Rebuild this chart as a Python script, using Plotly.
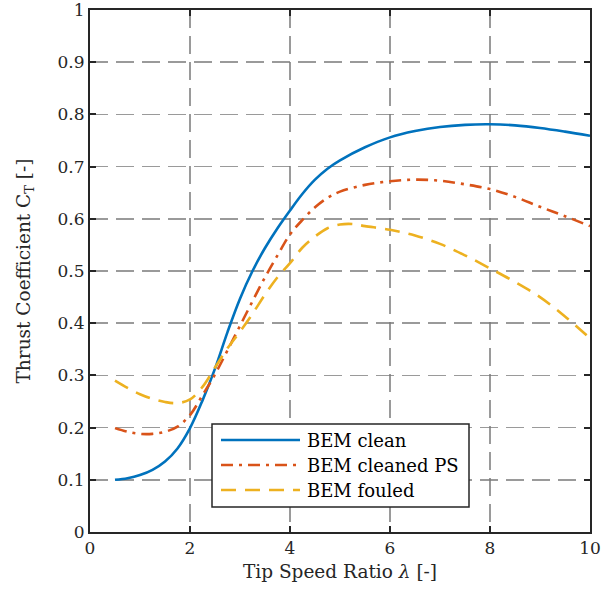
import plotly.graph_objects as go

# ---- data ----
x_clean = [0.5, 0.75, 1.0, 1.25, 1.5, 1.75, 2.0, 2.25, 2.5, 2.75, 3.0, 3.25, 3.5, 3.75, 4.0, 4.25, 4.5, 4.75, 5.0, 5.5, 6.0, 6.5, 7.0, 7.5, 8.0, 8.5, 9.0, 9.5, 10.0]
y_clean = [0.100, 0.103, 0.109, 0.119, 0.135, 0.160, 0.199, 0.252, 0.313, 0.383, 0.447, 0.500, 0.544, 0.582, 0.616, 0.648, 0.675, 0.696, 0.712, 0.737, 0.756, 0.768, 0.776, 0.780, 0.781, 0.779, 0.774, 0.767, 0.759]

x_ps = [0.5, 0.75, 1.0, 1.25, 1.5, 1.75, 2.0, 2.25, 2.5, 2.75, 3.0, 3.25, 3.5, 3.75, 4.0, 4.25, 4.5, 4.75, 5.0, 5.5, 6.0, 6.5, 7.0, 7.5, 8.0, 8.5, 9.0, 9.5, 10.0]
y_ps = [0.199, 0.192, 0.188, 0.188, 0.192, 0.202, 0.224, 0.262, 0.302, 0.348, 0.395, 0.442, 0.488, 0.530, 0.570, 0.598, 0.622, 0.640, 0.652, 0.665, 0.672, 0.675, 0.673, 0.666, 0.657, 0.642, 0.623, 0.605, 0.586]

x_fouled = [0.5, 0.75, 1.0, 1.25, 1.5, 1.75, 2.0, 2.25, 2.5, 2.75, 3.0, 3.25, 3.5, 3.75, 4.0, 4.25, 4.5, 4.75, 5.0, 5.25, 5.5, 6.0, 6.5, 7.0, 7.5, 8.0, 8.5, 9.0, 9.5, 10.0]
y_fouled = [0.290, 0.276, 0.264, 0.255, 0.249, 0.247, 0.254, 0.278, 0.315, 0.352, 0.384, 0.418, 0.455, 0.488, 0.515, 0.545, 0.566, 0.582, 0.589, 0.590, 0.586, 0.579, 0.568, 0.552, 0.530, 0.505, 0.479, 0.450, 0.413, 0.371]

series_names = ["BEM clean", "BEM cleaned PS", "BEM fouled"]
x_ticks = [0, 2, 4, 6, 8, 10]
y_ticks = [0, 0.1, 0.2, 0.3, 0.4, 0.5, 0.6, 0.7, 0.8, 0.9, 1]

# ---- styles ----
colors = ["#0072BD", "#D95319", "#EDB120"]
dashes = ["solid", "12px,6px,3px,6px", "15px,9px"]
FONT = "DejaVu Serif"
AX = "#262626"
LW = 2.6

fig = go.Figure()
for xs, ys, name, c, d in zip([x_clean, x_ps, x_fouled], [y_clean, y_ps, y_fouled], series_names, colors, dashes):
    fig.add_trace(go.Scatter(x=xs, y=ys, mode="lines", name=name,
                             line=dict(color=c, width=LW, dash=d, shape="spline", smoothing=1.0),
                             showlegend=False, hoverinfo="skip"))

axis_common = dict(
    showline=True, linecolor=AX, linewidth=2, mirror="ticks",
    ticks="inside", ticklen=6, tickwidth=2, tickcolor=AX,
    showgrid=True, gridcolor="rgba(120,120,120,0.75)", gridwidth=1.5, griddash="18px,8px",
    zeroline=False, automargin=False, ticklabeloverflow="allow",
    tickfont=dict(family=FONT, size=17, color=AX),
)
fig.update_xaxes(range=[0, 10], tickvals=x_ticks, ticktext=[str(v) for v in x_ticks],
                 title=dict(text="Tip Speed Ratio <i>λ</i> [-]", font=dict(family=FONT, size=18.5, color=AX), standoff=8),
                 **axis_common)
fig.update_yaxes(range=[0, 1], tickvals=y_ticks, ticktext=[("%g" % v) for v in y_ticks],
                 title=dict(text="Thrust Coefficient C<sub>T</sub> [-]", font=dict(family=FONT, size=18.5, color=AX), standoff=22),
                 **axis_common)

# ---- manual legend (paper coordinates) ----
L, R, T, B = 90, 590, 10, 532
def px(xp):
    return (xp - L) / (R - L)
def py(yp):
    return (B - yp) / (B - T)

shapes = [dict(type="rect", xref="paper", yref="paper", x0=px(212), x1=px(469), y0=py(507), y1=py(424),
               line=dict(color=AX, width=1.5), fillcolor="white", layer="above")]
annotations = []
rows = [440, 465, 490]
for name, c, d, ry in zip(series_names, colors, dashes, rows):
    shapes.append(dict(type="line", xref="paper", yref="paper", x0=px(221), x1=px(300), y0=py(ry), y1=py(ry),
                       line=dict(color=c, width=LW, dash=d), layer="above"))
    annotations.append(dict(xref="paper", yref="paper", x=px(305), y=py(ry), text=name, showarrow=False,
                            xanchor="left", yanchor="middle", font=dict(family=FONT, size=18, color="black")))

fig.update_layout(
    width=610, height=596,
    margin=dict(l=L, r=610 - R, t=T, b=596 - B, autoexpand=False),
    paper_bgcolor="white", plot_bgcolor="white",
    font=dict(family=FONT, color=AX),
    shapes=shapes, annotations=annotations, showlegend=False,
)

fig.write_html("out.html", config={"displayModeBar": False, "staticPlot": True},
               post_script="document.body.style.margin='0';document.body.style.overflow='hidden';")
